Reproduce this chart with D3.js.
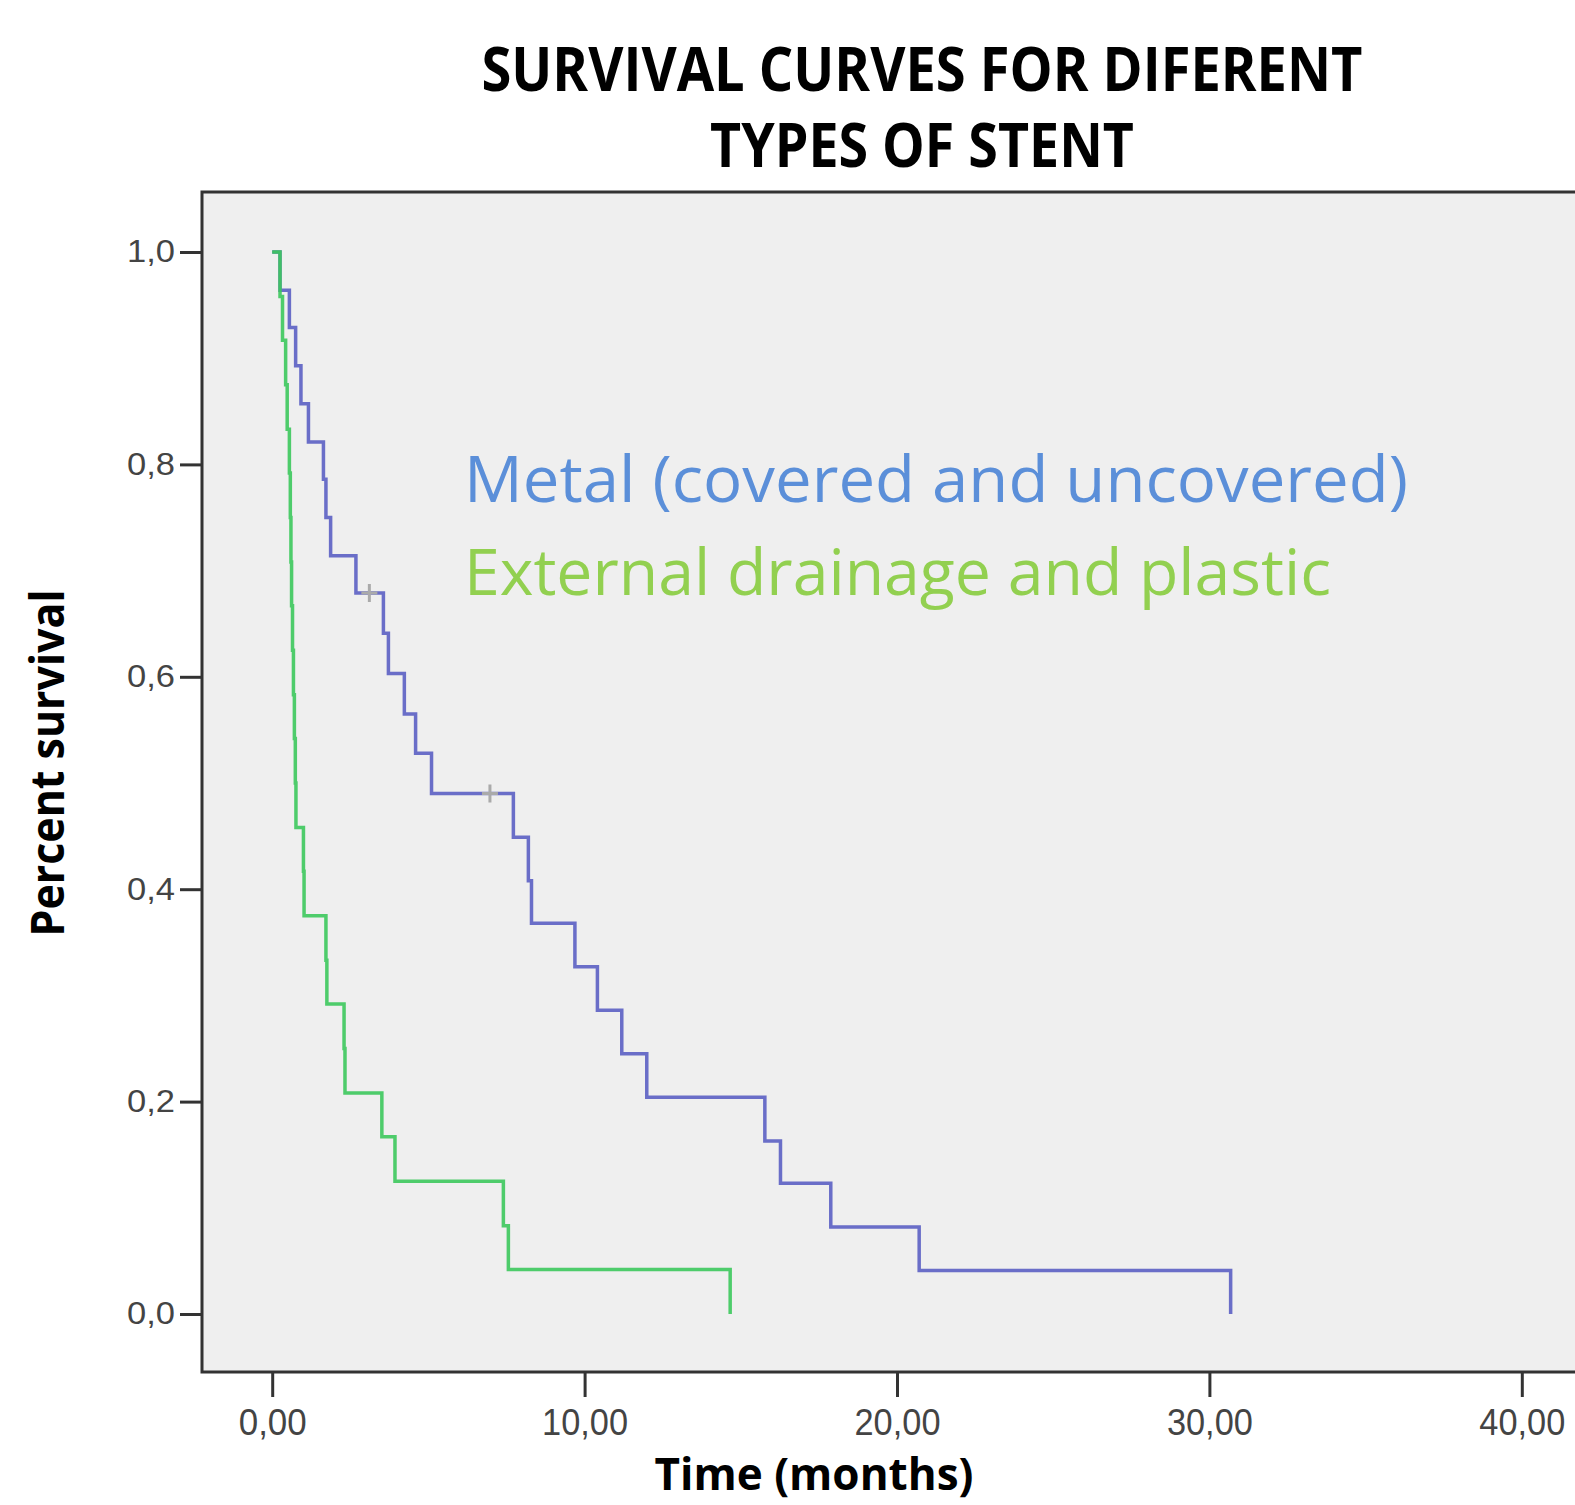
<!DOCTYPE html>
<html>
<head>
<meta charset="utf-8">
<script src="https://cdn.jsdelivr.net/npm/d3@7"></script>
<style>
  body { margin: 0; background: #fff; }
  svg { display: block; }
</style>
</head>
<body>
<div id="chart"></div>
<script>
// Kaplan-Meier steps (time in months, survival after the drop)
const metalTime = [0, 0.25, 0.55, 0.75, 0.92, 1.16, 1.64, 1.72, 1.87, 2.68, 3.56, 3.72, 4.23, 4.59, 5.10, 7.72, 8.20, 8.30, 9.69, 10.41, 11.19, 11.99, 15.77, 16.27, 17.88, 20.71, 30.68];
const metalSurv = [1, 0.964, 0.929, 0.893, 0.857, 0.821, 0.786, 0.750, 0.714, 0.679, 0.641, 0.603, 0.565, 0.528, 0.490, 0.449, 0.408, 0.368, 0.327, 0.286, 0.245, 0.204, 0.163, 0.123, 0.082, 0.041, 0];
const metalCensorTime = [3.11, 6.97];
const metalCensorSurv = [0.679, 0.490];

const plasticTime = [0, 0.25, 0.33, 0.43, 0.48, 0.55, 0.58, 0.60, 0.62, 0.65, 0.68, 0.71, 0.74, 0.76, 1.00, 1.02, 1.72, 1.75, 2.30, 2.33, 3.51, 3.93, 7.40, 7.56, 14.66];
const plasticSurv = [1, 0.958, 0.917, 0.875, 0.833, 0.792, 0.750, 0.708, 0.667, 0.625, 0.583, 0.542, 0.500, 0.458, 0.417, 0.375, 0.333, 0.292, 0.250, 0.208, 0.167, 0.125, 0.083, 0.042, 0];

const yTicks = [0, 0.2, 0.4, 0.6, 0.8, 1.0];
const xTicks = [0, 10, 20, 30, 40];
const titleLines = ["SURVIVAL CURVES FOR DIFERENT", "TYPES OF STENT"];
const legendLabels = ["Metal (covered and uncovered)", "External drainage and plastic"];

const width = 1575, height = 1505;
const box = { left: 202, top: 192, right: 1610, bottom: 1372 };

const svg = d3.select("#chart").append("svg")
    .attr("width", width)
    .attr("height", height)
    .style("font-family", "'Liberation Sans', Arial, sans-serif");

const x = d3.scaleLinear().domain([0, 40]).range([272.2, 1521.8]);
const y = d3.scaleLinear().domain([0, 1]).range([1314, 252]);

// plot area
svg.append("rect")
    .attr("x", box.left).attr("y", box.top)
    .attr("width", box.right - box.left).attr("height", box.bottom - box.top)
    .attr("fill", "#efefef")
    .attr("stroke", "#333").attr("stroke-width", 3);

// axes
const comma = s => s.replace(".", ",");
const yAxis = svg.append("g")
    .attr("transform", `translate(${box.left},0)`)
    .call(d3.axisLeft(y).tickValues(yTicks).tickSize(22).tickPadding(5)
        .tickFormat(d => comma(d3.format(".1f")(d))));
const xAxis = svg.append("g")
    .attr("transform", `translate(0,${box.bottom})`)
    .call(d3.axisBottom(x).tickValues(xTicks).tickSize(25).tickPadding(12)
        .tickFormat(d => comma(d3.format(".2f")(d))));

[yAxis, xAxis].forEach(g => {
    g.select(".domain").remove();
    g.selectAll(".tick line").attr("stroke", "#333").attr("stroke-width", 3);
    g.selectAll(".tick text").attr("fill", "#444").attr("font-size", 31);
});
yAxis.selectAll(".tick text").attr("textLength", 48).attr("lengthAdjust", "spacingAndGlyphs");
xAxis.selectAll(".tick text").attr("font-size", 36)
    .attr("textLength", function() { return this.textContent.length > 4 ? 86 : 68; })
    .attr("lengthAdjust", "spacingAndGlyphs");

// survival curves (green drawn last, it sits on top at the start)
const step = d3.line()
    .x(d => x(d[0]))
    .y(d => y(d[1]))
    .curve(d3.curveStepAfter);

const series = [
    { t: metalTime, s: metalSurv, color: "#5b5fc3" },
    { t: plasticTime, s: plasticSurv, color: "#3cc85c" }
];

series.forEach(sr => {
    svg.append("path")
        .datum(d3.zip(sr.t, sr.s))
        .attr("fill", "none")
        .attr("stroke", sr.color)
        .attr("stroke-width", 3.5)
        .attr("stroke-opacity", 0.9)
        .attr("d", step);
});

// censor marks
svg.selectAll(".censor")
    .data(d3.zip(metalCensorTime, metalCensorSurv))
    .join("path")
    .attr("class", "censor")
    .attr("d", d => `M${x(d[0]) - 8},${y(d[1])}h16M${x(d[0])},${y(d[1]) - 9}v18`)
    .attr("stroke", "#aaa")
    .attr("stroke-width", 3);

// title
svg.append("g").selectAll("text")
    .data(titleLines)
    .join("text")
    .attr("x", 922)
    .attr("y", (d, i) => 91 + i * 76)
    .attr("text-anchor", "middle")
    .attr("font-family", "'Open Sans', sans-serif")
    .attr("font-weight", "bold")
    .attr("font-size", 60)
    .attr("textLength", (d, i) => i === 0 ? 881 : 424)
    .attr("lengthAdjust", "spacingAndGlyphs")
    .attr("fill", "#000")
    .text(d => d);

// legend labels inside the plot
svg.append("g").selectAll("text")
    .data(legendLabels)
    .join("text")
    .attr("x", 464)
    .attr("y", (d, i) => 502 + i * 93)
    .attr("font-family", "'Open Sans', sans-serif")
    .attr("font-size", 64)
    .attr("textLength", (d, i) => i === 0 ? 944 : 867)
    .attr("lengthAdjust", "spacingAndGlyphs")
    .attr("fill", (d, i) => i === 0 ? "#5b8fd9" : "#92d050")
    .text(d => d);

// axis titles
svg.append("text")
    .attr("transform", "translate(64,763) rotate(-90)")
    .attr("text-anchor", "middle")
    .attr("font-family", "'Open Sans', sans-serif")
    .attr("font-weight", "bold")
    .attr("font-size", 46)
    .attr("textLength", 347)
    .attr("lengthAdjust", "spacingAndGlyphs")
    .text("Percent survival");

svg.append("text")
    .attr("x", 814)
    .attr("y", 1490)
    .attr("text-anchor", "middle")
    .attr("font-family", "'Open Sans', sans-serif")
    .attr("font-weight", "bold")
    .attr("font-size", 45)
    .attr("textLength", 319)
    .attr("lengthAdjust", "spacingAndGlyphs")
    .text("Time (months)");
</script>
</body>
</html>
